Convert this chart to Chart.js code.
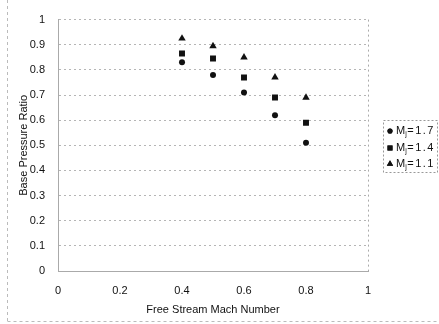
<!DOCTYPE html>
<html>
<head>
<meta charset="utf-8">
<script src="https://cdn.jsdelivr.net/npm/chart.js@4/dist/chart.umd.min.js"></script>
<style>
  html, body { margin: 0; padding: 0; background: #fff; }
  #wrap { width: 439px; height: 324px; position: relative; }
</style>
</head>
<body>
<div id="wrap"><canvas id="c" width="439" height="324"></canvas></div>
<script>
const machNumbers = [0.4, 0.5, 0.6, 0.7, 0.8];
const mj17 = [0.83, 0.78, 0.71, 0.62, 0.51];
const mj14 = [0.865, 0.845, 0.77, 0.69, 0.59];
const mj11 = [0.925, 0.895, 0.85, 0.77, 0.69];
const seriesNames = ['1.7', '1.4', '1.1'];
const xTitle = 'Free Stream Mach Number';
const yTitle = 'Base Pressure Ratio';

const FONT = 'Liberation Sans, Arial, sans-serif';
const TICKFONT = '"Liberation Sans Narrow", "Liberation Sans", Arial, sans-serif';
const INK = '#111';
const styles = [
  { pointStyle: 'circle', radius: 3 },
  { pointStyle: 'rect', radius: 4.2 },
  { pointStyle: 'triangle', radius: 4.3 }
];
const seriesData = [mj17, mj14, mj11];

const datasets = seriesData.map((vals, i) => ({
  label: 'Mj=' + seriesNames[i],
  data: machNumbers.map((x, k) => ({ x: x, y: vals[k] })),
  pointStyle: styles[i].pointStyle,
  pointRadius: styles[i].radius,
  pointHoverRadius: styles[i].radius,
  backgroundColor: INK,
  borderColor: INK,
  borderWidth: 0,
  showLine: false
}));

const extras = {
  id: 'extras',
  beforeDraw(chart) {
    const ctx = chart.ctx;
    ctx.save();
    ctx.fillStyle = '#fff';
    ctx.fillRect(0, 0, chart.width, chart.height);
    ctx.restore();
  },
  afterDraw(chart) {
    const ctx = chart.ctx;
    const a = chart.chartArea;
    ctx.save();
    // right border of plot
    ctx.strokeStyle = '#aaa';
    ctx.lineWidth = 1;
    ctx.setLineDash([2, 3]);
    ctx.beginPath();
    ctx.moveTo(Math.round(a.right) + 0.5, a.top);
    ctx.lineTo(Math.round(a.right) + 0.5, a.bottom);
    ctx.stroke();
    // outer frame (scan border)
    ctx.strokeStyle = '#bbb';
    ctx.setLineDash([3, 3]);
    ctx.beginPath();
    ctx.moveTo(7.5, 0); ctx.lineTo(7.5, 322);
    ctx.moveTo(7.5, 321.5); ctx.lineTo(437, 321.5);
    ctx.stroke();
    // legend box
    const lx = 383, ly = 120, lw = 54, lh = 52;
    ctx.strokeStyle = '#999';
    ctx.setLineDash([2, 2]);
    ctx.strokeRect(lx + 0.5, ly + 0.5, lw, lh);
    ctx.setLineDash([]);
    // legend entries
    const rows = [131, 148, 164];
    seriesNames.forEach((name, i) => {
      const y = rows[i];
      Chart.helpers.drawPoint(ctx, {
        pointStyle: styles[i].pointStyle,
        radius: styles[i].radius * 0.85,
        rotation: 0,
        borderWidth: 0
      }, 390, y);
      ctx.fillStyle = INK;
      ctx.fill();
      ctx.textBaseline = 'middle';
      ctx.textAlign = 'left';
      ctx.font = '11px ' + FONT;
      let x = 396;
      ctx.fillText('M', x, y);
      x += ctx.measureText('M').width;
      ctx.font = '7px ' + FONT;
      ctx.fillText('j', x, y + 3);
      x += ctx.measureText('j').width + 0.5;
      ctx.font = '11px ' + FONT;
      ctx.letterSpacing = '1.5px';
      ctx.fillText('=' + name, x, y);
      ctx.letterSpacing = '0px';
    });
    ctx.restore();
  }
};

new Chart(document.getElementById('c'), {
  type: 'scatter',
  data: { datasets },
  plugins: [extras],
  options: {
    responsive: false,
    animation: false,
    devicePixelRatio: 1,
    layout: { padding: { left: 0, right: 71, top: 13, bottom: 0 } },
    plugins: { legend: { display: false }, tooltip: { enabled: false } },
    scales: {
      x: {
        type: 'linear', min: 0, max: 1,
        afterFit(s) { s.height = 53; },
        ticks: {
          stepSize: 0.2, padding: 13, color: INK,
          font: { family: TICKFONT, size: 11 },
          callback: v => String(Number(v.toFixed(1)))
        },
        grid: { display: false, drawTicks: false },
        border: { display: true, color: '#aaa', dash: [2, 3] },
        title: {
          display: true, text: xTitle, color: INK,
          font: { family: FONT, size: 11 },
          padding: { top: 0, bottom: 7 }
        }
      },
      y: {
        type: 'linear', min: 0, max: 1,
        afterFit(s) { s.width = 58; },
        ticks: {
          stepSize: 0.1, padding: 13, color: INK,
          font: { family: TICKFONT, size: 11 },
          callback: v => String(Number(v.toFixed(1)))
        },
        grid: { color: '#b5b5b5', drawTicks: false, lineWidth: 1 },
        border: { display: true, color: '#aaa', dash: [2, 3] },
        title: {
          display: true, text: yTitle, color: INK,
          font: { family: FONT, size: 11 },
          padding: { top: 17, bottom: 0 }
        }
      }
    }
  }
});
</script>
</body>
</html>
